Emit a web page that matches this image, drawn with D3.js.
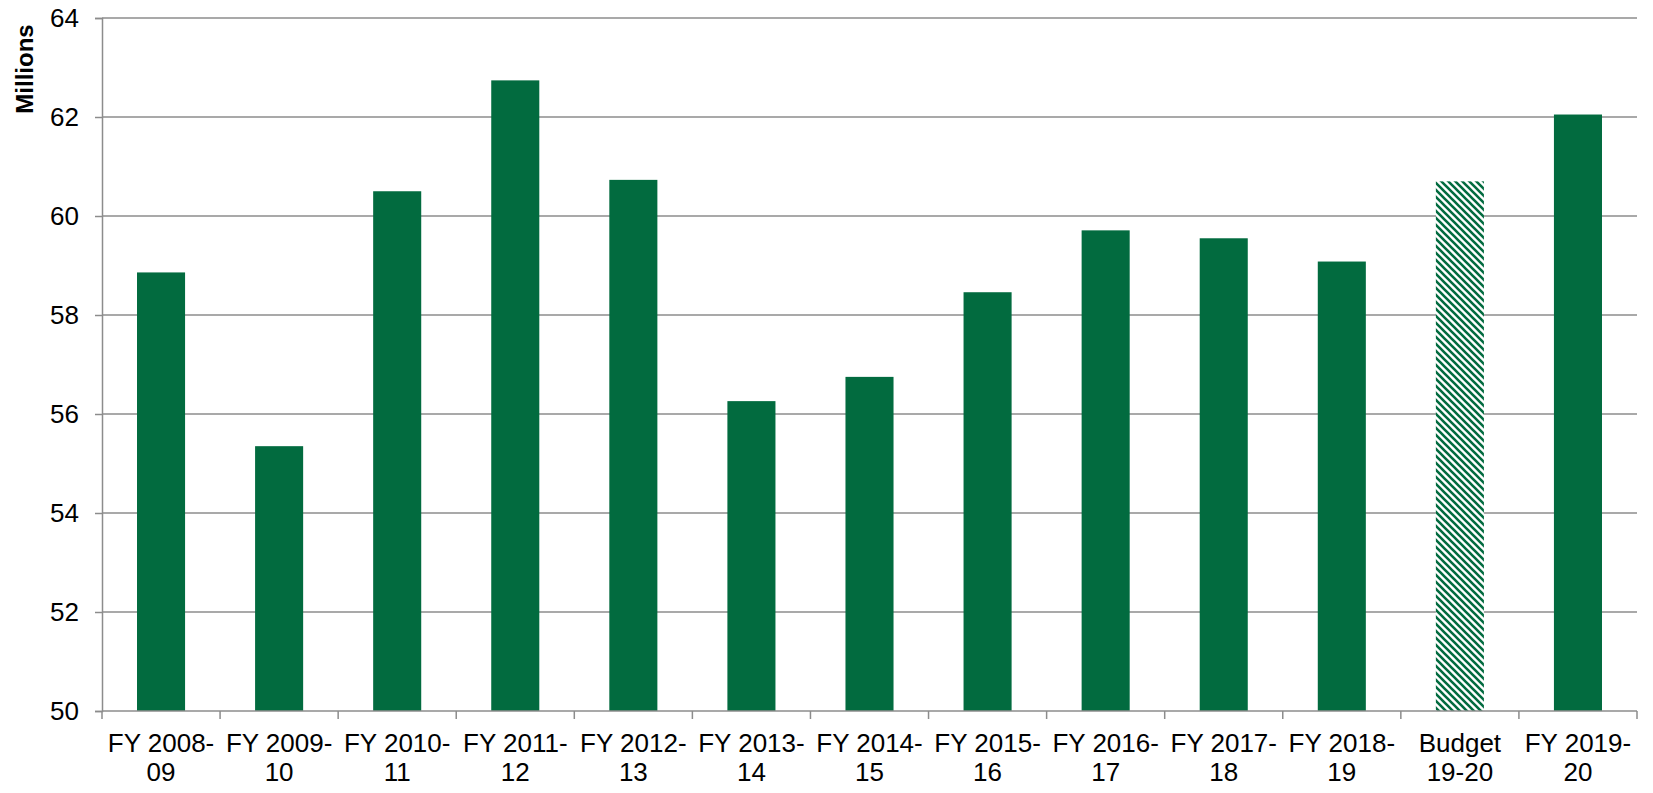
<!DOCTYPE html>
<html>
<head>
<meta charset="utf-8">
<script src="https://cdn.jsdelivr.net/npm/d3@7"></script>
<style>
  body { margin: 0; background: #fff; }
  text { font-family: Arial, "Liberation Sans", sans-serif; fill: #000; }
</style>
</head>
<body>
<svg id="chart" width="1653" height="793"></svg>
<script>
// data
const categories = ['FY 2008-09', 'FY 2009-10', 'FY 2010-11', 'FY 2011-12', 'FY 2012-13', 'FY 2013-14',
  'FY 2014-15', 'FY 2015-16', 'FY 2016-17', 'FY 2017-18', 'FY 2018-19', 'Budget 19-20', 'FY 2019-20'];
const labelLine1 = ['FY 2008-', 'FY 2009-', 'FY 2010-', 'FY 2011-', 'FY 2012-', 'FY 2013-',
  'FY 2014-', 'FY 2015-', 'FY 2016-', 'FY 2017-', 'FY 2018-', 'Budget', 'FY 2019-'];
const labelLine2 = ['09', '10', '11', '12', '13', '14', '15', '16', '17', '18', '19', '19-20', '20'];
const values = [58.86, 55.35, 60.50, 62.74, 60.73, 56.26, 56.75, 58.46, 59.71, 59.55, 59.08, 60.70, 62.05];
const budgetCategory = 'Budget 19-20';
const yTicks = [50, 52, 54, 56, 58, 60, 62, 64];
const yTitle = 'Millions';

const svg = d3.select('#chart');
const margin = { top: 18, right: 16, bottom: 82, left: 102 };
const width = +svg.attr('width');
const height = +svg.attr('height');
const innerWidth = width - margin.left - margin.right;
const innerHeight = height - margin.top - margin.bottom;

const green = '#026b3f';
const gridColour = '#8c8c8c';

// hatch for the budget bar (downward diagonal)
const defs = svg.append('defs');
const pat = defs.append('pattern')
  .attr('id', 'hatch')
  .attr('patternUnits', 'userSpaceOnUse')
  .attr('width', 7).attr('height', 7);
pat.append('rect').attr('width', 7).attr('height', 7).attr('fill', '#fff');
pat.append('path')
  .attr('d', 'M-2,-2L9,9M-2,5L2,9M5,-2L9,2')
  .attr('stroke', green)
  .attr('stroke-width', 2.6);

const g = svg.append('g').attr('transform', `translate(${margin.left},${margin.top})`);

const x = d3.scaleBand()
  .domain(categories)
  .range([0, innerWidth])
  .paddingInner(0.593)
  .paddingOuter(0.2965);

const y = d3.scaleLinear()
  .domain([50, 64])
  .range([innerHeight, 0]);

// gridlines
g.selectAll('line.grid').data(yTicks.filter(d => d > 50)).enter()
  .append('line')
    .attr('class', 'grid')
    .attr('x1', 0).attr('x2', innerWidth)
    .attr('y1', d => y(d)).attr('y2', d => y(d))
    .attr('stroke', gridColour)
    .attr('stroke-width', 1.5);

// bars
g.selectAll('rect.bar').data(categories).enter()
  .append('rect')
    .attr('class', 'bar')
    .attr('x', d => x(d))
    .attr('width', x.bandwidth())
    .attr('y', (d, i) => y(values[i]))
    .attr('height', (d, i) => innerHeight - y(values[i]))
    .attr('fill', d => d === budgetCategory ? 'url(#hatch)' : green);

// y axis
const yAxis = g.append('g')
  .call(d3.axisLeft(y).tickValues(yTicks).tickSize(7).tickPadding(16).tickFormat(d3.format('d')));
yAxis.select('.domain').attr('stroke', gridColour).attr('stroke-width', 1.5);
yAxis.selectAll('.tick line').attr('stroke', gridColour).attr('stroke-width', 1.5);
yAxis.selectAll('.tick text').style('font-size', '26px').attr('fill', '#000');

// x axis: baseline plus ticks on band edges
g.append('line')
  .attr('x1', 0).attr('x2', innerWidth)
  .attr('y1', innerHeight).attr('y2', innerHeight)
  .attr('stroke', gridColour).attr('stroke-width', 1.5);

const edges = categories.map(d => x(d) - x.step() * x.paddingInner() / 2)
  .concat([innerWidth]);
edges[0] = 0;
g.selectAll('line.xtick').data(edges).enter()
  .append('line')
    .attr('class', 'xtick')
    .attr('x1', d => d).attr('x2', d => d)
    .attr('y1', innerHeight).attr('y2', innerHeight + 8)
    .attr('stroke', gridColour).attr('stroke-width', 1.5);

const labels = g.selectAll('text.xlabel').data(categories).enter()
  .append('text')
    .attr('class', 'xlabel')
    .attr('text-anchor', 'middle')
    .style('font-size', '26px')
    .attr('transform', d => `translate(${x(d) + x.bandwidth() / 2},${innerHeight + 41})`);
labels.append('tspan').attr('x', 0).attr('y', 0).text((d, i) => labelLine1[i]);
labels.append('tspan').attr('x', 0).attr('y', 28.5).text((d, i) => labelLine2[i]);

// axis title
svg.append('text')
  .attr('transform', 'translate(33,69) rotate(-90)')
  .attr('text-anchor', 'middle')
  .style('font-size', '24px')
  .style('font-weight', 'bold')
  .text(yTitle);
</script>
</body>
</html>
